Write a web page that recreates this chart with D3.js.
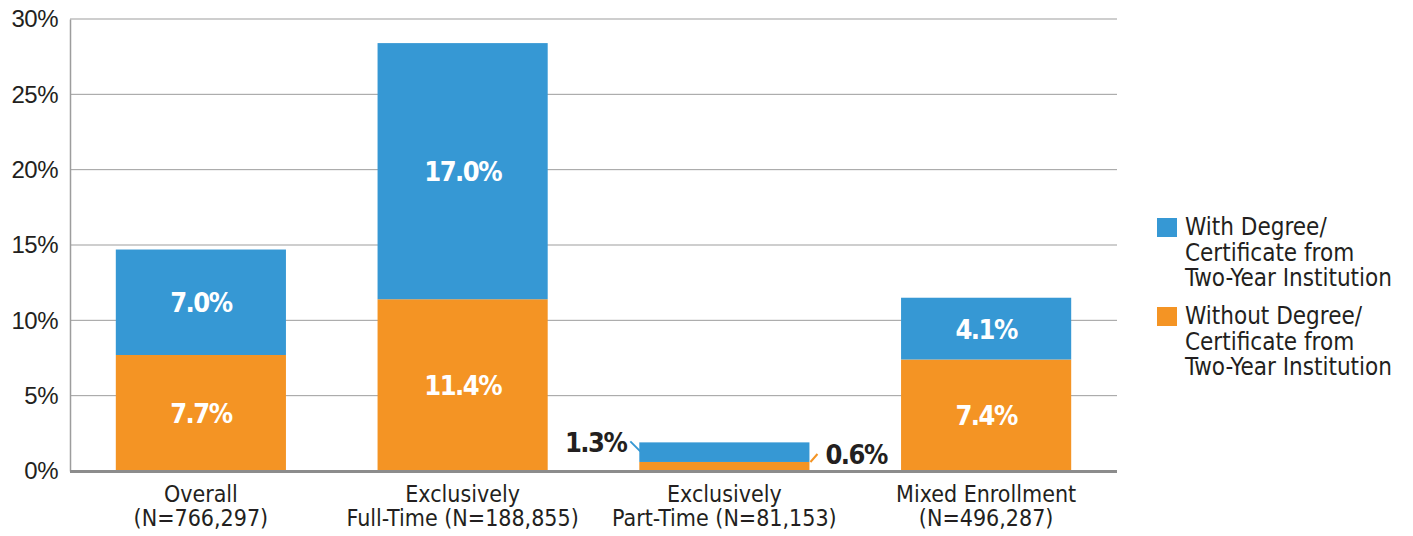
<!DOCTYPE html>
<html>
<head>
<meta charset="utf-8">
<title>Enrollment outcomes</title>
<script src="https://cdn.jsdelivr.net/npm/d3@7"></script>
<style>
  body { margin: 0; background: #fff; }
  svg { display: block; font-family: "Liberation Sans Narrow", "DejaVu Sans Condensed", "Roboto", sans-serif; }
</style>
</head>
<body>
<svg width="1413" height="536"></svg>
<script>
var categories = ["Overall", "Exclusively Full-Time", "Exclusively Part-Time", "Mixed Enrollment"];
var categoryLines = [
  ["Overall", "(N=766,297)"],
  ["Exclusively", "Full-Time (N=188,855)"],
  ["Exclusively", "Part-Time (N=81,153)"],
  ["Mixed Enrollment", "(N=496,287)"]
];
var withoutDegree = [7.7, 11.4, 0.6, 7.4];
var withDegree = [7.0, 17.0, 1.3, 4.1];
var yTicks = [0, 5, 10, 15, 20, 25, 30];
var legendLabels = [
  ["With Degree/", "Certificate from", "Two-Year Institution"],
  ["Without Degree/", "Certificate from", "Two-Year Institution"]
];

var blue = "#3698d4", orange = "#f49424", ink = "#231f20";

var svg = d3.select("svg");
var plotLeft = 70, plotRight = 1117, plotTop = 19, plotBottom = 471;

var x = d3.scaleBand().domain(categories).range([plotLeft, plotRight]).paddingInner(0.35).paddingOuter(0.175);
var y = d3.scaleLinear().domain([0, 30]).range([plotBottom, plotTop]);

// gridlines
svg.append("g").selectAll("line")
    .data(yTicks.filter(function(d){ return d > 0; }))
  .enter().append("line")
    .attr("x1", plotLeft).attr("x2", plotRight)
    .attr("y1", function(d){ return y(d); })
    .attr("y2", function(d){ return y(d); })
    .attr("stroke", "#9d9d9d").attr("stroke-width", 1);

// y axis
var yAxis = svg.append("g")
    .attr("transform", "translate(" + plotLeft + ",0)")
    .call(d3.axisLeft(y).tickValues(yTicks).tickSize(0).tickPadding(12)
      .tickFormat(function(d){ return d + "%"; }));
yAxis.select(".domain").attr("stroke", "#9d9d9d").attr("stroke-width", 1.5);
yAxis.selectAll("text")
    .attr("font-size", 24).attr("fill", ink)
    .attr("letter-spacing", -0.5)
    .attr("font-family", "inherit");

// stacked bars
var rows = categories.map(function(c, i){
  return { cat: c, without: withoutDegree[i], with: withDegree[i] };
});

var g = svg.append("g");
g.selectAll(".bar-o").data(rows).enter().append("rect")
    .attr("x", function(d){ return x(d.cat); })
    .attr("width", x.bandwidth())
    .attr("y", function(d){ return y(d.without); })
    .attr("height", function(d){ return y(0) - y(d.without); })
    .attr("fill", orange);
g.selectAll(".bar-b").data(rows).enter().append("rect")
    .attr("x", function(d){ return x(d.cat); })
    .attr("width", x.bandwidth())
    .attr("y", function(d){ return y(d.without + d.with); })
    .attr("height", function(d){ return y(d.without) - y(d.without + d.with); })
    .attr("fill", blue);

// bottom axis line
svg.append("line")
    .attr("x1", plotLeft).attr("x2", plotRight)
    .attr("y1", y(0) + 0.5).attr("y2", y(0) + 0.5)
    .attr("stroke", "#8c8c8c").attr("stroke-width", 3);

// inside labels (skip the tiny part-time bar)
var big = rows.filter(function(d){ return d.without > 2; });
g.selectAll(".lab-o").data(big).enter().append("text")
    .attr("x", function(d){ return x(d.cat) + x.bandwidth() / 2; })
    .attr("y", function(d){ return y(d.without / 2) + 10; })
    .attr("text-anchor", "middle").attr("fill", "#fff")
    .attr("font-size", 27).attr("font-weight", "bold").attr("letter-spacing", -1.5)
    .text(function(d){ return d.without.toFixed(1) + "%"; });
g.selectAll(".lab-b").data(big).enter().append("text")
    .attr("x", function(d){ return x(d.cat) + x.bandwidth() / 2; })
    .attr("y", function(d){ return y(d.without + d.with / 2) + 10; })
    .attr("text-anchor", "middle").attr("fill", "#fff")
    .attr("font-size", 27).attr("font-weight", "bold").attr("letter-spacing", -1.5)
    .text(function(d){ return d.with.toFixed(1) + "%"; });

// callouts for the small bar
var small = rows[2];
var sx0 = x(small.cat), sx1 = x(small.cat) + x.bandwidth();
svg.append("line")
    .attr("x1", sx0 - 9).attr("y1", y(small.without + small.with) - 1)
    .attr("x2", sx0 + 1).attr("y2", y(small.without + small.with) + 9)
    .attr("stroke", blue).attr("stroke-width", 2);
svg.append("text")
    .attr("x", sx0 - 13).attr("y", y(small.without + small.with) + 10)
    .attr("text-anchor", "end").attr("fill", ink)
    .attr("font-size", 27).attr("font-weight", "bold").attr("letter-spacing", -1.5)
    .text(small.with.toFixed(1) + "%");
svg.append("line")
    .attr("x1", sx1 + 1).attr("y1", y(0) - 9)
    .attr("x2", sx1 + 8).attr("y2", y(0) - 17)
    .attr("stroke", orange).attr("stroke-width", 2);
svg.append("text")
    .attr("x", sx1 + 16).attr("y", y(0) - 7)
    .attr("text-anchor", "start").attr("fill", ink)
    .attr("font-size", 27).attr("font-weight", "bold").attr("letter-spacing", -1.5)
    .text(small.without.toFixed(1) + "%");

// x labels
var xl = svg.append("g").selectAll("text").data(categories).enter().append("text")
    .attr("text-anchor", "middle").attr("fill", ink).attr("font-size", 23);
xl.each(function(d, i){
  var t = d3.select(this);
  categoryLines[i].forEach(function(line, k){
    t.append("tspan")
      .attr("x", x(d) + x.bandwidth() / 2)
      .attr("y", 502 + k * 24)
      .text(line);
  });
});

// legend
var legend = svg.append("g").attr("transform", "translate(1157,218)");
[blue, orange].forEach(function(c, i){
  var item = legend.append("g").attr("transform", "translate(0," + (i * 89) + ")");
  item.append("rect").attr("width", 20).attr("height", 19).attr("fill", c);
  legendLabels[i].forEach(function(line, k){
    item.append("text")
      .attr("x", 28).attr("y", 17 + k * 25.5)
      .attr("font-size", 24).attr("fill", ink)
      .text(line);
  });
});
</script>
</body>
</html>
